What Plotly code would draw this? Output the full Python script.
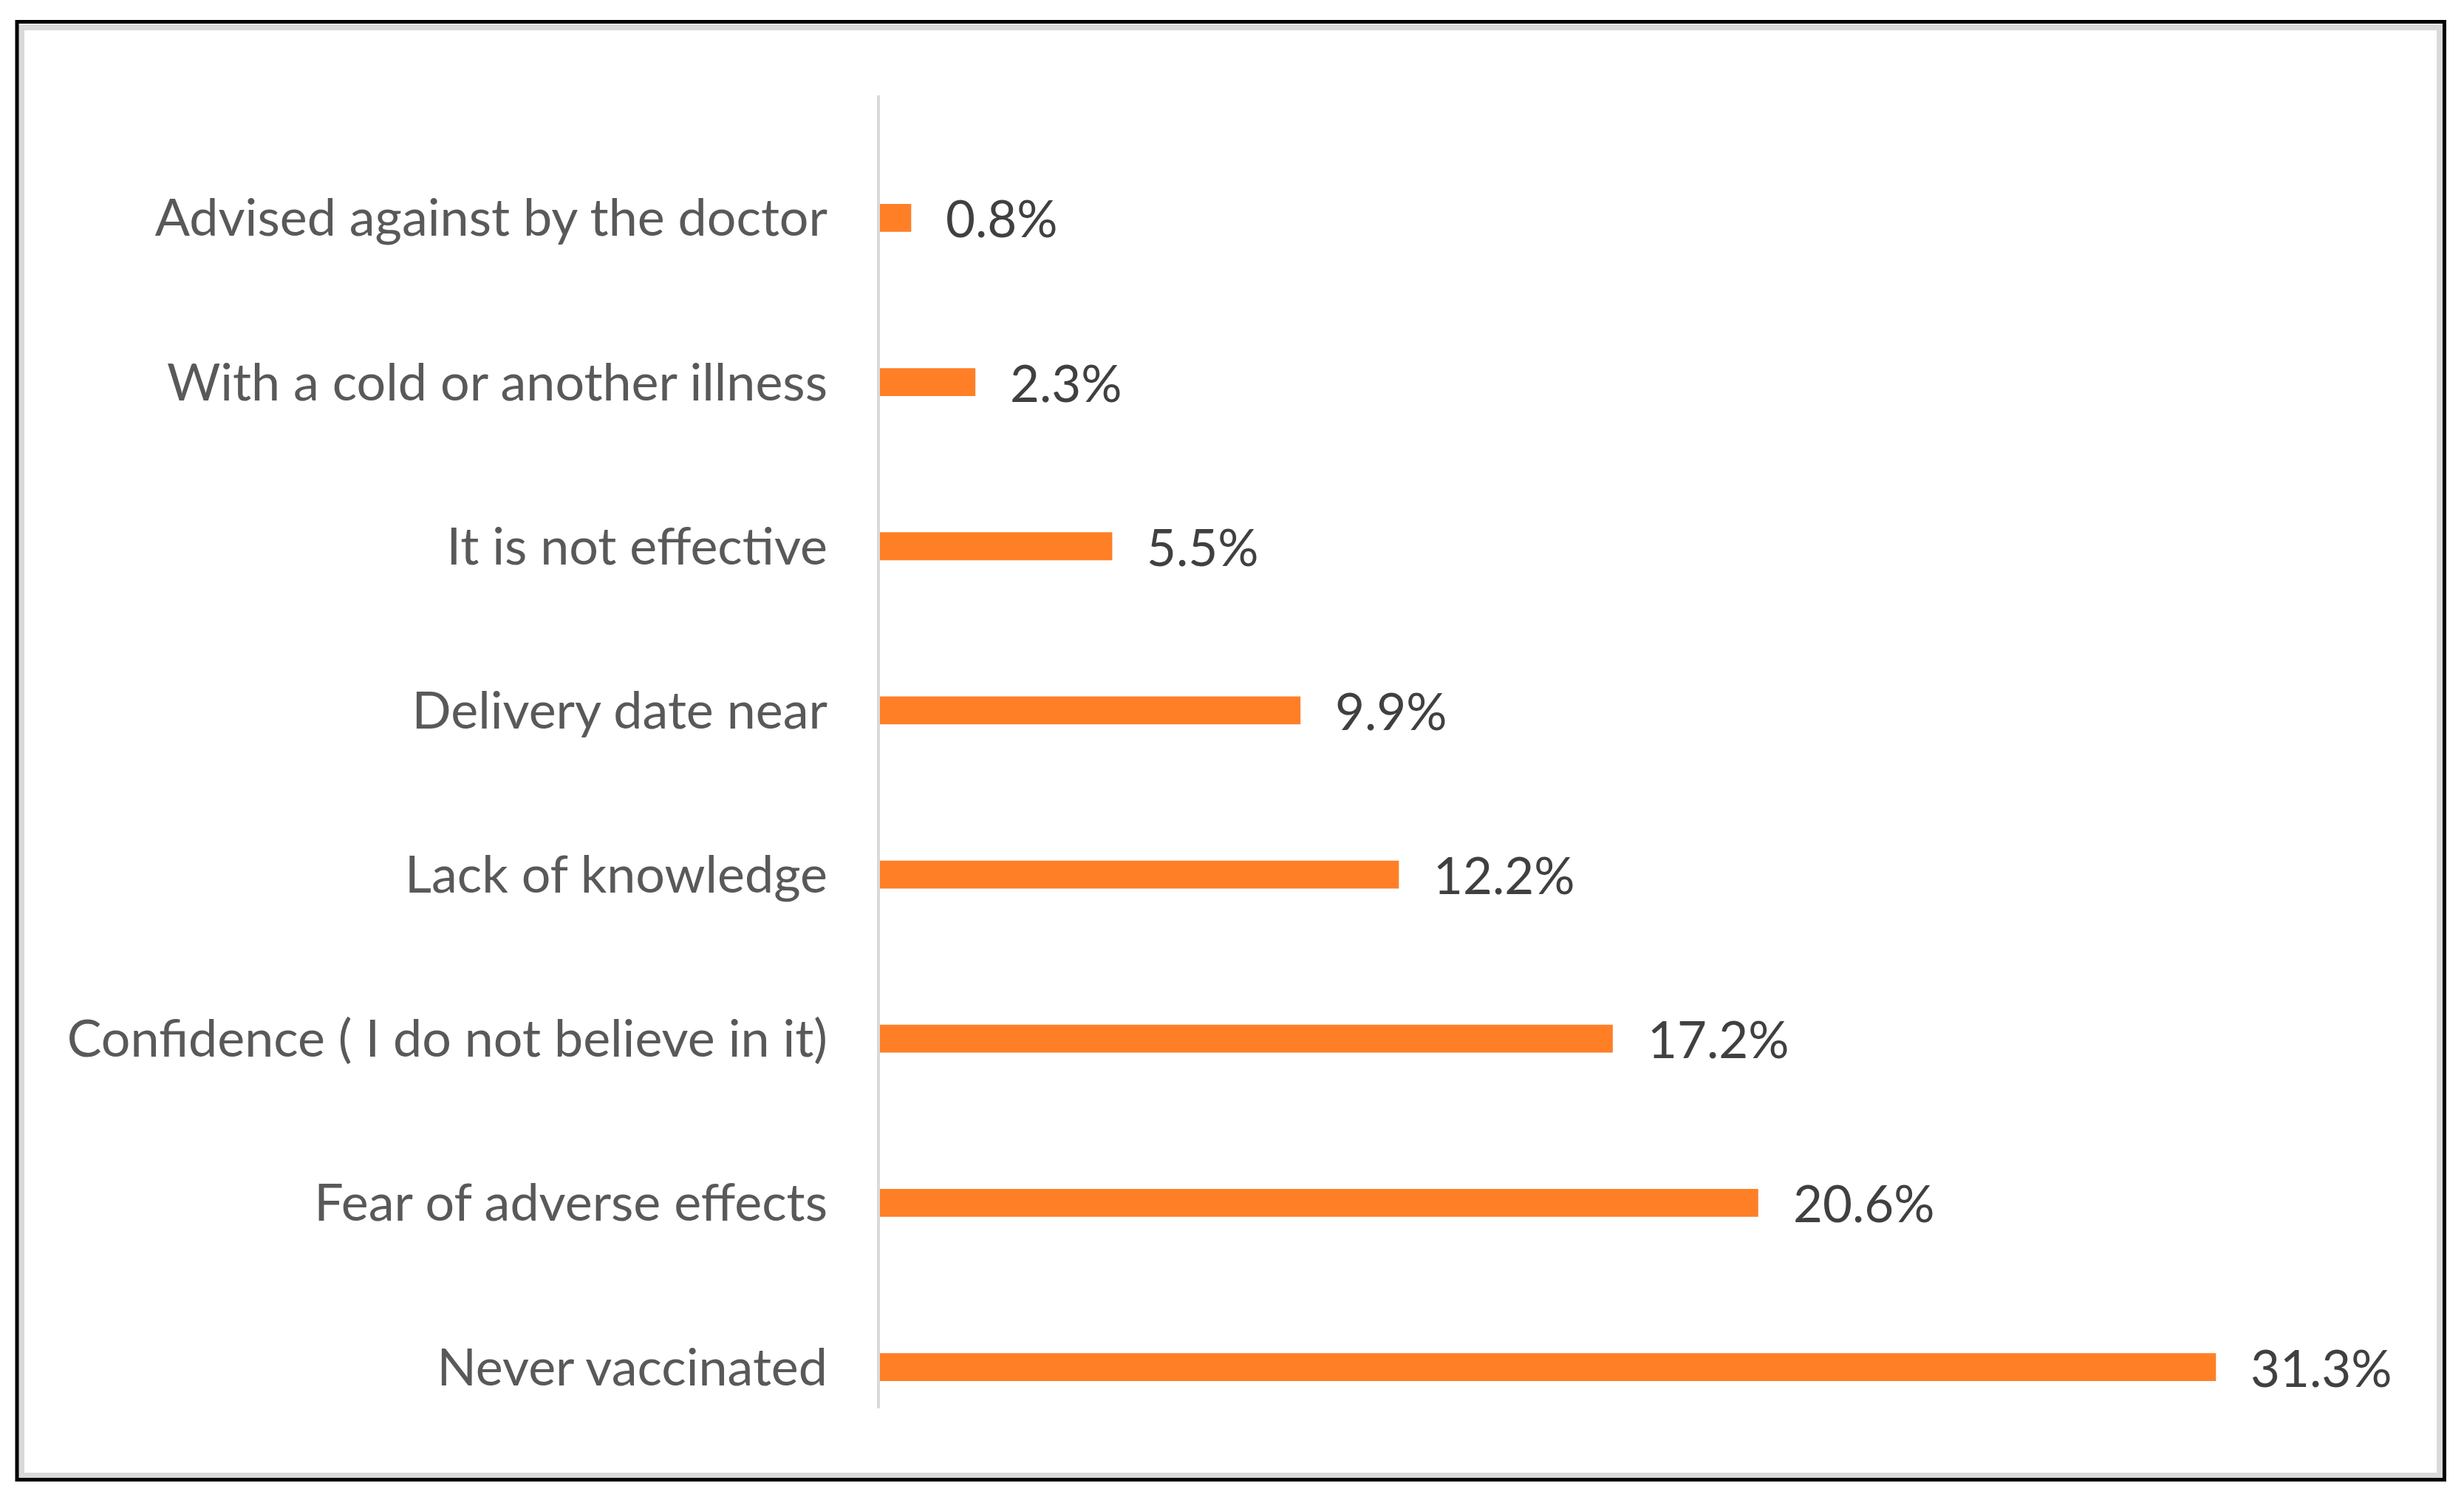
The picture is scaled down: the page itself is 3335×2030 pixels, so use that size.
import plotly.graph_objects as go

categories = [
    "Advised against by the doctor",
    "With a cold or another illness",
    "It is not effective",
    "Delivery date near",
    "Lack of knowledge",
    "Confidence ( I do not believe in it)",
    "Fear of adverse effects",
    "Never vaccinated",
]
values = [0.8, 2.3, 5.5, 9.9, 12.2, 17.2, 20.6, 31.3]
labels = [f"{v:.1f}%" for v in values]

OFF = 8  # page body margin
W_FIG, H_FIG = 3335 - OFF, 2030 - OFF
L, T = 1187 - OFF, 129 - OFF
R = W_FIG - (3200 - OFF)
B = H_FIG - (1906 - OFF)
PW, PH = W_FIG - L - R, H_FIG - T - B
FONT = "Lato"
BAR_COLOR = "#FF7F27"


def px_x(p):
    return (p - OFF - L) / PW


def px_y(p):
    return 1 - (p - OFF - T) / PH


fig = go.Figure()
fig.add_trace(go.Bar(
    x=values,
    y=categories,
    orientation="h",
    marker=dict(color=BAR_COLOR, line=dict(width=0)),
    width=0.17,
    hoverinfo="skip",
))

for v, c, t in zip(values, categories, labels):
    fig.add_annotation(
        x=v, y=c, text=t, xref="x", yref="y",
        xanchor="left", yanchor="middle", xshift=45, showarrow=False,
        font=dict(family=FONT, size=69, color="#404040"),
    )

shapes = [
    # vertical category axis line
    dict(type="line", xref="x", yref="paper", x0=0, x1=0, y0=0, y1=1,
         line=dict(color="#D9D9D9", width=8), layer="above"),
    # inner gray chart border
    dict(type="rect", xref="paper", yref="paper",
         x0=px_x(29), x1=px_x(3302), y0=px_y(37), y1=px_y(1997),
         line=dict(color="#D9D9D9", width=8), layer="below"),
    # outer black frame
    dict(type="rect", xref="paper", yref="paper",
         x0=px_x(23), x1=px_x(3308.5), y0=px_y(29.5), y1=px_y(2002.5),
         line=dict(color="#000000", width=5), layer="below"),
]

fig.update_layout(
    width=W_FIG, height=H_FIG,
    margin=dict(l=L, r=R, t=T, b=B, autoexpand=False),
    paper_bgcolor="white", plot_bgcolor="white",
    showlegend=False,
    shapes=shapes,
)
fig.update_xaxes(
    range=[0, PW / 57.9], visible=False, showgrid=False, zeroline=False,
)
fig.update_yaxes(
    type="category",
    categoryorder="array", categoryarray=categories,
    range=[7.252, -0.747],
    showline=False, showgrid=False, zeroline=False, ticks="",
    ticklabelstandoff=66,
    tickfont=dict(family=FONT, size=70, color="#595959"),
)

fig.write_html("out.html")
